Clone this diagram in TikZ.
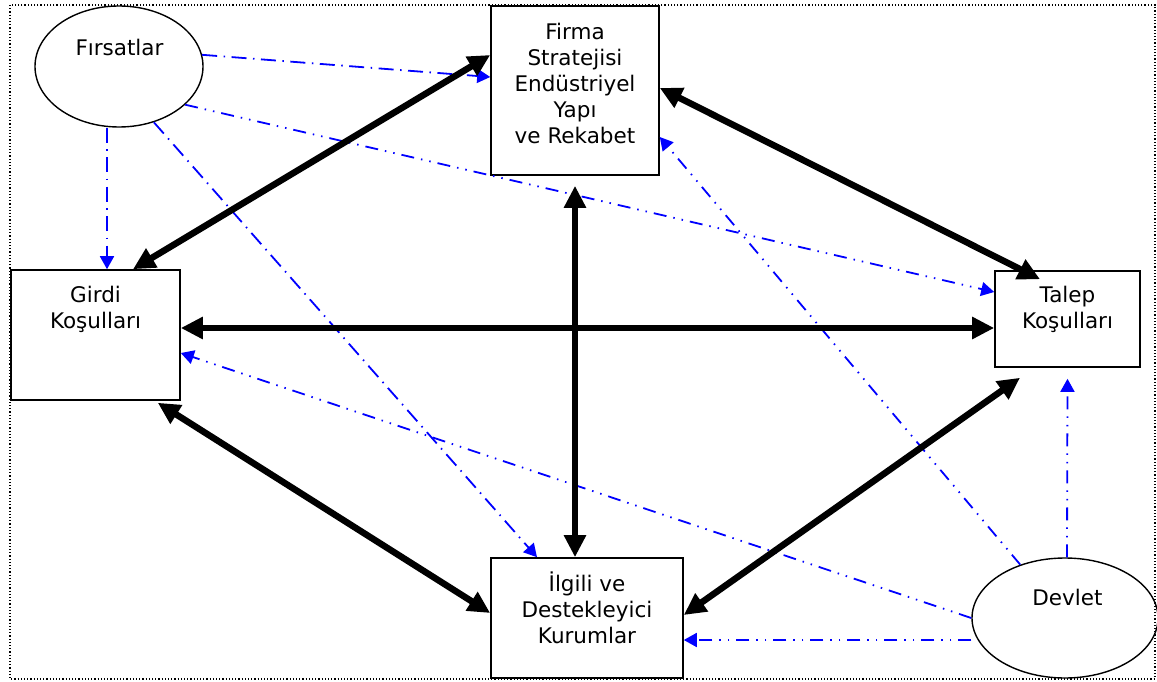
\documentclass[tikz,border=0pt]{standalone}
\usepackage{fontspec}
\setmainfont{DejaVu Sans}
\usetikzlibrary{arrows.meta,shapes.geometric}
\definecolor{lineblue}{RGB}{0,0,255}
\tikzset{
  boxnode/.style={draw=black, line width=1.6pt, rectangle, inner sep=0pt},
  ovalnode/.style={draw=black, line width=1.4pt, ellipse, inner sep=0pt},
  txt/.style={align=center, inner sep=0pt, font=\fontsize{21.5}{26}\selectfont},
  strong/.style={line width=6.5pt, {Triangle[length=22pt,width=21pt]}-{Triangle[length=22pt,width=21pt]}},
  weakA/.style={draw=lineblue, line width=1.8pt, dash pattern=on 15pt off 6.5pt on 1.5pt off 6.5pt, -{Triangle[length=13pt,width=14pt]}},
  weakB/.style={draw=lineblue, line width=1.8pt, dash pattern=on 13pt off 7pt on 1.5pt off 7pt on 1.5pt off 7pt, -{Triangle[length=13pt,width=14pt]}},
  frameline/.style={line width=1.2pt, dash pattern=on 1.2pt off 2pt},
}
\begin{document}
\begin{tikzpicture}[x=1pt,y=-1pt]
\useasboundingbox (0,0) rectangle (1157,682);
\draw[frameline] (10,5) rectangle (1155,679);

\node[ovalnode, minimum width=168pt, minimum height=121pt] (fir) at (119,66.5) {};
\node[txt] (firT) at (119.5,47) {Fırsatlar};
\node[boxnode, minimum width=168pt, minimum height=169pt] (firma) at (575,90.5) {};
\node[txt] (firmaT) at (575,83) {Firma\\Stratejisi\\Endüstriyel\\Yapı\\ve Rekabet};
\node[boxnode, minimum width=169pt, minimum height=130pt] (girdi) at (95.5,335) {};
\node[txt] (girdiT) at (95.5,309) {Girdi\\Koşulları};
\node[boxnode, minimum width=145pt, minimum height=96pt] (talep) at (1067.5,319) {};
\node[txt] (talepT) at (1067.5,309) {Talep\\Koşulları};
\node[boxnode, minimum width=192pt, minimum height=120pt] (ilgili) at (587,618) {};
\node[txt] (ilgiliT) at (587,608) {İlgili ve\\Destekleyici\\Kurumlar};
\node[ovalnode, minimum width=186pt, minimum height=120pt] (dev) at (1065,618) {};
\node[txt] (devT) at (1067.5,597) {Devlet};

% blue influences
\draw[weakA] (fir.8) -- ([yshift=13.5pt]firma.west);
\draw[weakB] (fir.-30) -- ([yshift=27pt]talep.west);
\draw[weakA] ([xshift=-12pt]fir.south) -- ([xshift=11.5pt]girdi.north);
\draw[weakA] (fir.-58) -- ([xshift=-50pt]ilgili.north);
\draw[weakB] (dev.west) -- ([yshift=-18pt]girdi.east);
\draw[weakB] ([yshift=-22pt]dev.west) -- ([yshift=-22pt]ilgili.east);
\draw[weakB] ([xshift=2pt]dev.north) -- ([yshift=-11pt]talep.south);
\draw[weakB] (dev.130) -- ([yshift=-46.5pt]firma.east);

% black interactions
\draw[strong] ([xshift=37.5pt]girdi.north) -- ([yshift=35.5pt]firma.west);
\draw[strong] ([yshift=2.5pt]firma.east) -- ([xshift=-27.5pt,yshift=-9pt]talep.north);
\draw[strong] ([yshift=-10pt]firma.south) -- ([xshift=-12pt]ilgili.north);
\draw[strong] ([yshift=7pt]girdi.east) -- ([yshift=-9pt]talep.west);
\draw[strong] ([xshift=-23pt,yshift=-2pt]girdi.south east) -- ([yshift=5pt]ilgili.west);
\draw[strong] ([xshift=-47.5pt,yshift=-10pt]talep.south) -- ([yshift=3pt]ilgili.east);
\end{tikzpicture}
\end{document}
